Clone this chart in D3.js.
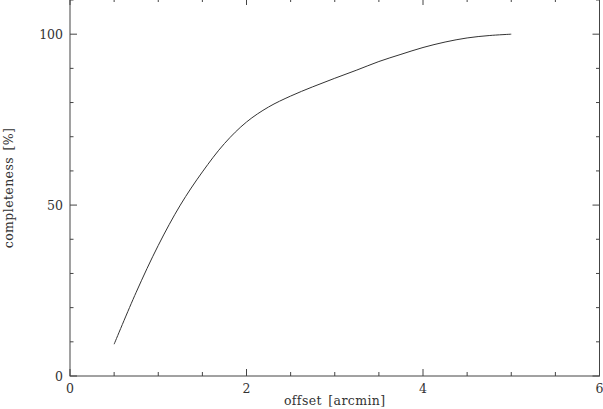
<!DOCTYPE html>
<html>
<head>
<meta charset="utf-8">
<script src="https://cdn.jsdelivr.net/npm/d3@7"></script>
<style>
  html, body { margin: 0; padding: 0; background: #fff; }
  svg { display: block; }
  text { font-family: "DejaVu Serif", serif; font-size: 12.5px; fill: #333; }
</style>
</head>
<body>
<svg id="chart" width="603" height="409"></svg>
<script>
const offsets = [0.5, 0.75, 1.0, 1.25, 1.5, 1.75, 2.0, 2.25, 2.5, 2.75, 3.0, 3.25, 3.5, 3.75, 4.0, 4.25, 4.5, 4.75, 5.0];
const completeness = [9.3, 24.5, 38.2, 50.0, 59.7, 68.0, 74.3, 78.7, 81.9, 84.6, 87.1, 89.5, 92.0, 94.1, 96.1, 97.7, 98.9, 99.6, 100.0];
const xMajorTicks = [0, 2, 4, 6];
const yMajorTicks = [0, 50, 100];
const xMinorTicks = d3.range(0, 6.01, 0.5);
const yMinorTicks = d3.range(0, 110.01, 10);

(function () {
const svg = d3.select("#chart");
const mLeft = 70, mRight = 599.5, mBottom = 376, mTop = -2;
const x = d3.scaleLinear().domain([0, 6]).range([mLeft, mRight]);
const y = d3.scaleLinear().domain([0, 110]).range([mBottom, 0]);

const axisColor = "#444";
svg.append("rect").attr("x", mLeft).attr("y", mTop).attr("width", mRight - mLeft).attr("height", mBottom - mTop)
  .attr("fill", "none").attr("stroke", axisColor).attr("stroke-width", 1);

const g = svg.append("g").attr("stroke", axisColor).attr("stroke-width", 1);
xMinorTicks.forEach(v => {
  const major = xMajorTicks.some(m => Math.abs(m - v) < 1e-9);
  const len = major ? 7 : 4;
  g.append("line").attr("x1", x(v)).attr("x2", x(v)).attr("y1", mBottom).attr("y2", mBottom - len);
  g.append("line").attr("x1", x(v)).attr("x2", x(v)).attr("y1", mTop).attr("y2", mTop + len);
});
yMinorTicks.forEach(v => {
  const major = yMajorTicks.some(m => Math.abs(m - v) < 1e-9);
  const len = major ? 7 : 3.5;
  g.append("line").attr("x1", mLeft).attr("x2", mLeft + len).attr("y1", y(v)).attr("y2", y(v));
  g.append("line").attr("x1", mRight).attr("x2", mRight - len).attr("y1", y(v)).attr("y2", y(v));
});

svg.selectAll(".xl").data(xMajorTicks).enter().append("text")
  .attr("x", d => x(d)).attr("y", 393).attr("text-anchor", "middle").text(d => d);
svg.selectAll(".yl").data(yMajorTicks).enter().append("text")
  .attr("x", 63).attr("y", d => y(d) + 4.5).attr("text-anchor", "end").text(d => d);

svg.append("text").attr("x", (mLeft + mRight) / 2).attr("y", 405).attr("text-anchor", "middle")
  .attr("letter-spacing", "0.4px").attr("word-spacing", "2px").text("offset [arcmin]");
svg.append("text").attr("transform", "translate(12.5,188) rotate(-90)").attr("text-anchor", "middle")
  .attr("letter-spacing", "0.4px").attr("word-spacing", "2px").text("completeness [%]");

const data = offsets.map((o, i) => ({ o, c: completeness[i] }));
svg.append("path").datum(data)
  .attr("fill", "none").attr("stroke", "#333").attr("stroke-width", 1)
  .attr("d", d3.line().x(d => x(d.o)).y(d => y(d.c)).curve(d3.curveCatmullRom.alpha(0.5)));
})();
</script>
</body>
</html>
